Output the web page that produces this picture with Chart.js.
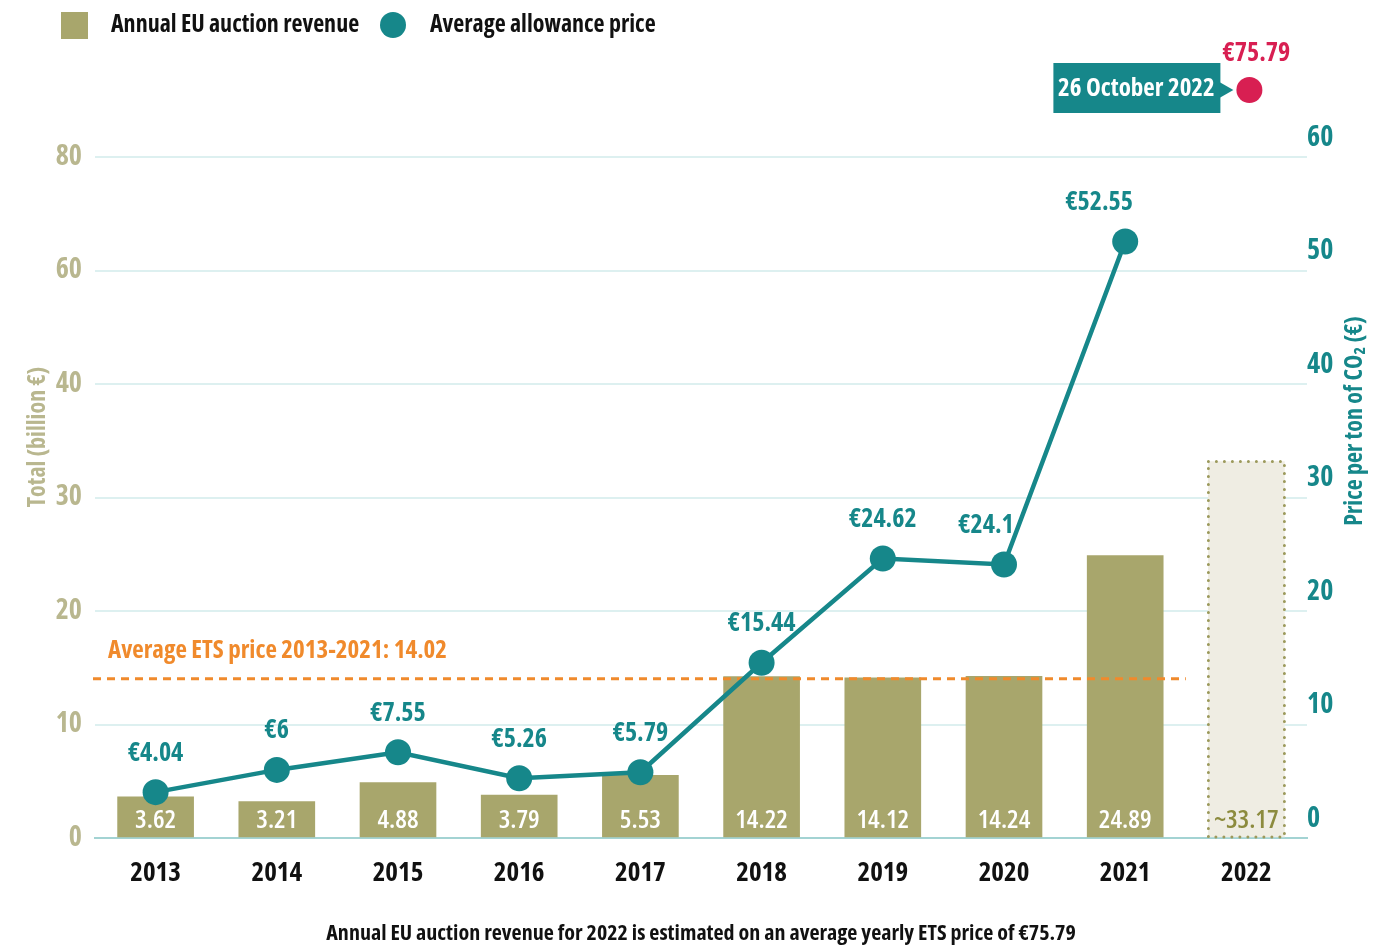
<!DOCTYPE html>
<html>
<head>
<meta charset="utf-8">
<script src="https://cdn.jsdelivr.net/npm/chart.js@4"></script>
<style>
body{margin:0;background:#fff}
#wrap{width:1399px;height:949px}
</style>
</head>
<body>
<div id="wrap"><canvas id="c1" width="1399" height="949"></canvas></div>
<script>
// data
var years = ['2013','2014','2015','2016','2017','2018','2019','2020','2021','2022'];
var revenue = [3.62, 3.21, 4.88, 3.79, 5.53, 14.22, 14.12, 14.24, 24.89, 33.17];
var prices = [4.04, 6, 7.55, 5.26, 5.79, 15.44, 24.62, 24.1, 52.55, null];
var leftTickLabels = ['0','10','20','30','40','60','80'];
var avgPrice = 14.02;
var latestPrice = 75.79;
var latestDate = '26 October 2022';

// condensed face of Open Sans (weight string carries the stretch keyword)
var FONT = "'Open Sans', 'Roboto Condensed', sans-serif";
var W = 'bold condensed';
var olive = '#a8a66c';
var oliveLight = '#b9b78f';
var teal = '#16878a';
var orange = '#f08a2c';
var crimson = '#d81f52';

function font(size, w){ return (w || W) + ' ' + size + 'px ' + FONT; }

var extras = {
  id: 'extras',
  beforeDatasetDraw: function(chart, args) {
    if (args.index !== 1) return;
    // average price line, under the price line
    var ctx = chart.ctx, x = chart.scales.x, y = chart.scales.y2;
    var py = y.getPixelForValue(avgPrice);
    var x1 = (x.getPixelForValue(8) + x.getPixelForValue(9)) / 2;
    ctx.save();
    ctx.strokeStyle = orange;
    ctx.lineWidth = 3;
    ctx.setLineDash([8, 6]);
    ctx.beginPath();
    ctx.moveTo(chart.chartArea.left - 2, py);
    ctx.lineTo(x1, py);
    ctx.stroke();
    ctx.setLineDash([]);
    ctx.fillStyle = orange;
    ctx.font = font(25);
    ctx.textBaseline = 'middle';
    ctx.fillText('Average ETS price 2013-2021: ' + avgPrice, chart.chartArea.left + 13, py - 28);
    ctx.restore();
  },
  afterDatasetDraw: function(chart, args) {
    if (args.index !== 0) return;
    var ctx = chart.ctx;
    ctx.save();
    ctx.font = font(26, '600 condensed');
    ctx.textAlign = 'center';
    ctx.textBaseline = 'middle';
    args.meta.data.forEach(function(bar, i) {
      var last = i === revenue.length - 1;
      if (last) {
        // dotted outline for the estimate
        var w = bar.width / 2;
        ctx.strokeStyle = '#9c9a5c';
        ctx.lineWidth = 3;
        ctx.lineCap = 'round';
        ctx.setLineDash([0, 8]);
        ctx.strokeRect(bar.x - w, bar.y, w * 2, bar.base - bar.y);
        ctx.setLineDash([]);
      }
      ctx.fillStyle = last ? '#8c8b3e' : '#fff';
      ctx.fillText((last ? '~' : '') + revenue[i], bar.x, bar.base - 16);
    });
    ctx.restore();
  },
  afterDatasetsDraw: function(chart) {
    var ctx = chart.ctx, ca = chart.chartArea;
    var meta = chart.getDatasetMeta(1);
    var shift = {7: -18, 8: -26};
    ctx.save();
    ctx.font = font(26);
    ctx.fillStyle = teal;
    ctx.textAlign = 'center';
    ctx.textBaseline = 'middle';
    meta.data.forEach(function(pt, i) {
      if (prices[i] == null) return;
      ctx.fillText('€' + prices[i], pt.x + (shift[i] || 0), pt.y - 39);
    });

    // latest price marker, off the top of the scale
    var px = chart.scales.x.getPixelForValue(years.length - 1) + 3;
    var py = ca.top - 67;
    ctx.fillStyle = crimson;
    ctx.beginPath();
    ctx.arc(px, py, 13, 0, Math.PI * 2);
    ctx.fill();
    ctx.fillText('€' + latestPrice, px + 7, py - 36);

    ctx.fillStyle = teal;
    ctx.fillRect(px - 196, py - 27, 167, 50);
    ctx.beginPath();
    ctx.moveTo(px - 30, py - 8);
    ctx.lineTo(px - 16, py);
    ctx.lineTo(px - 30, py + 8);
    ctx.fill();
    ctx.fillStyle = '#fff';
    ctx.font = font(25);
    ctx.fillText(latestDate, px - 113, py - 1);
    ctx.restore();
  },
  afterDraw: function(chart) {
    var ctx = chart.ctx, ca = chart.chartArea;
    ctx.save();
    ctx.textBaseline = 'middle';
    // legend
    ctx.fillStyle = olive;
    ctx.fillRect(61, 12, 27, 27);
    ctx.fillStyle = teal;
    ctx.beginPath();
    ctx.arc(393, 25, 13, 0, Math.PI * 2);
    ctx.fill();
    ctx.fillStyle = '#111';
    ctx.font = font(24);
    ctx.fillText('Annual EU auction revenue', 111, 25);
    ctx.fillText('Average allowance price', 430, 25);

    // axis titles
    ctx.font = font(24);
    ctx.textAlign = 'center';
    ctx.save();
    ctx.translate(38, 437);
    ctx.rotate(-Math.PI / 2);
    ctx.fillStyle = oliveLight;
    ctx.fillText('Total (billion €)', 0, 0);
    ctx.restore();
    ctx.save();
    ctx.translate(ca.right + 48, 421);
    ctx.rotate(-Math.PI / 2);
    ctx.fillStyle = teal;
    ctx.fillText('Price per ton of CO₂ (€)', 0, 0);
    ctx.restore();
    ctx.restore();
  }
};

var ctx = document.getElementById('c1').getContext('2d');
var chart1 = new Chart(ctx, {
  type: 'bar',
  data: {
    labels: years,
    datasets: [{
      label: 'Annual EU auction revenue',
      data: revenue,
      yAxisID: 'y',
      order: 1,
      barThickness: 76,
      backgroundColor: function(c) { return c.dataIndex === revenue.length - 1 ? '#efede3' : olive; }
    }, {
      type: 'line',
      label: 'Average allowance price',
      data: prices,
      yAxisID: 'y2',
      order: 0,
      borderColor: teal,
      borderWidth: 4.5,
      pointRadius: 13,
      pointBackgroundColor: teal,
      pointBorderWidth: 0,
      clip: false
    }]
  },
  options: {
    responsive: false,
    animation: false,
    layout: { padding: { top: 157, left: 0, right: 0, bottom: 0 } },
    plugins: { legend: { display: false }, tooltip: { enabled: false } },
    scales: {
      x: {
        offset: true,
        grid: { display: false },
        border: { color: '#a3d3d3', width: 2 },
        ticks: { color: '#111', font: { family: FONT, size: 27, weight: W }, padding: 11 },
        title: {
          display: true,
          text: 'Annual EU auction revenue for 2022 is estimated on an average yearly ETS price of €' + latestPrice,
          color: '#111',
          font: { family: FONT, size: 22, weight: W },
          padding: { top: 0, bottom: 2 }
        },
        afterFit: function(s) { s.height = 111; }
      },
      y: {
        position: 'left',
        min: 0, max: 60,
        grid: { color: '#ddf0f0', lineWidth: 2, drawTicks: false },
        border: { display: false },
        ticks: {
          stepSize: 10,
          padding: 13,
          color: oliveLight,
          font: { family: FONT, size: 28, weight: W },
          callback: function(v, i) { return leftTickLabels[i]; }
        },
        afterFit: function(s) { s.width = 95; }
      },
      y2: {
        position: 'right',
        min: 0, max: 60,
        grid: { drawOnChartArea: false, drawTicks: false },
        border: { display: false },
        ticks: {
          stepSize: 10,
          padding: 0,
          labelOffset: -19,
          color: teal,
          font: { family: FONT, size: 28, weight: W }
        },
        afterFit: function(s) { s.width = 92; }
      }
    }
  },
  plugins: [extras]
});
</script>
</body>
</html>
